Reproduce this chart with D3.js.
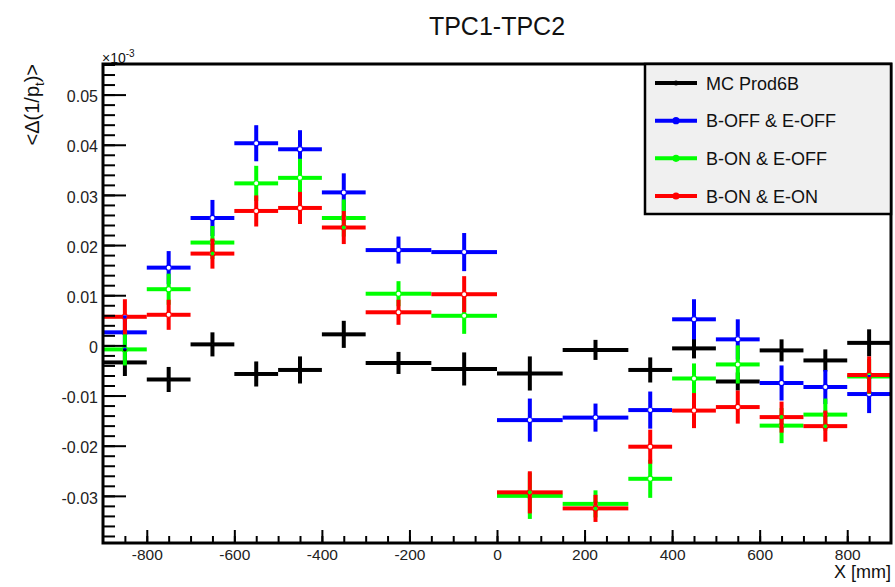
<!DOCTYPE html>
<html>
<head>
<meta charset="utf-8">
<script src="https://cdn.jsdelivr.net/npm/d3@7"></script>
<style>
  html, body { margin: 0; padding: 0; background: #fff; }
  svg { display: block; font-family: "Liberation Sans", Arial, Helvetica, sans-serif; }
</style>
</head>
<body>
<svg id="chart" width="895" height="587"></svg>
<script>
'use strict';

/* ─────────────────────────────────────────────────────────────────
   TPC1-TPC2 residuals — <Δ(1/pt)> vs X, four variable-width histos
   drawn ROOT style (error crosses, open circle markers)
   ───────────────────────────────────────────────────────────────── */

// bin edges in mm (last bins are wider in the middle)
const binEdges = [-900, -800, -700, -600, -500, -400, -300, -150, 0, 150, 300, 400, 500, 600, 700, 800, 900];

const seriesNames = ['MC Prod6B', 'B-OFF & E-OFF', 'B-ON & E-OFF', 'B-ON & E-ON'];

// values in units of 1e-3, one per bin
const mcVals   = [-0.0034, -0.0068, 0.0002, -0.0057, -0.0049, 0.0022, -0.0035, -0.0047, -0.0056, -0.0009, -0.0049, -0.0006, -0.0072, -0.0010, -0.0030, 0.0005];
const mcErrs   = [0.0027, 0.0025, 0.0024, 0.0025, 0.0027, 0.0027, 0.0022, 0.0033, 0.0034, 0.0020, 0.0025, 0.0020, 0.0018, 0.0022, 0.0022, 0.0027];

const boffVals = [0.0026, 0.0155, 0.0254, 0.0403, 0.0391, 0.0305, 0.0190, 0.0186, -0.0149, -0.0144, -0.0129, 0.0052, 0.0012, -0.0075, -0.0083, -0.0097];
const boffErrs = [0.0034, 0.0033, 0.0036, 0.0036, 0.0038, 0.0038, 0.0027, 0.0038, 0.0043, 0.0028, 0.0037, 0.0040, 0.0040, 0.0035, 0.0034, 0.0038];

const eoffVals = [-0.0008, 0.0112, 0.0205, 0.0323, 0.0334, 0.0254, 0.0103, 0.0059, -0.0300, -0.0316, -0.0266, -0.0066, -0.0038, -0.0160, -0.0138, -0.0062];
const eoffErrs = [0.0032, 0.0031, 0.0033, 0.0035, 0.0038, 0.0037, 0.0025, 0.0036, 0.0046, 0.0027, 0.0038, 0.0030, 0.0038, 0.0035, 0.0032, 0.0035];

const eonVals  = [0.0057, 0.0061, 0.0183, 0.0268, 0.0274, 0.0235, 0.0066, 0.0102, -0.0293, -0.0325, -0.0202, -0.0130, -0.0123, -0.0143, -0.0161, -0.0059];
const eonErrs  = [0.0035, 0.0030, 0.0030, 0.0031, 0.0032, 0.0033, 0.0025, 0.0036, 0.0042, 0.0027, 0.0034, 0.0035, 0.0033, 0.0031, 0.0031, 0.0037];

const xMajorTicks = [-800, -600, -400, -200, 0, 200, 400, 600, 800];
const yMajorTicks = [-0.03, -0.02, -0.01, 0, 0.01, 0.02, 0.03, 0.04, 0.05];

const COLORS = ['#000000', '#0000ff', '#00ff00', '#ff0000'];

const FRAME = { left: 103, right: 891, top: 64, bottom: 543 };

const svg = d3.select('#chart');

const x = d3.scaleLinear().domain([-900, 900]).range([FRAME.left, FRAME.right]);
const y = d3.scaleLinear().domain([-0.0394, 0.0561]).range([FRAME.bottom, FRAME.top]);

/* ── data crosses ─────────────────────────────────────────────── */
const series = [
  { vals: mcVals,   errs: mcErrs,   marker: false },
  { vals: boffVals, errs: boffErrs, marker: true },
  { vals: eoffVals, errs: eoffErrs, marker: true },
  { vals: eonVals,  errs: eonErrs,  marker: true },
];

const LW  = 4;     // error bar line width
const GAP = 2.6;   // hole left round the open marker

series.forEach((s, si) => {
  const col = COLORS[si];
  const g = svg.append('g').attr('class', 'series');

  const pts = s.vals.map((v, i) => ({
    x0: binEdges[i], x1: binEdges[i + 1],
    xc: (binEdges[i] + binEdges[i + 1]) / 2,
    v, e: s.errs[i],
  }));

  const gap = s.marker ? GAP : 0;
  const segs = [];
  pts.forEach(p => {
    const cx = x(p.xc), cy = y(p.v);
    segs.push([x(p.x0), cy, cx - gap, cy]);
    segs.push([cx + gap, cy, x(p.x1), cy]);
    segs.push([cx, y(p.v + p.e), cx, cy - gap]);
    segs.push([cx, cy + gap, cx, y(p.v - p.e)]);
  });

  g.selectAll('line').data(segs).enter().append('line')
    .attr('x1', d => d[0]).attr('y1', d => d[1])
    .attr('x2', d => d[2]).attr('y2', d => d[3])
    .attr('stroke', col).attr('stroke-width', LW);

  if (s.marker) {
    g.selectAll('circle').data(pts).enter().append('circle')
      .attr('cx', d => x(d.xc)).attr('cy', d => y(d.v))
      .attr('r', 2.6)
      .attr('fill', 'none')
      .attr('stroke', col).attr('stroke-width', 1.2);
  }
});

/* ── axes ─────────────────────────────────────────────────────── */
// plain hyphen minus like ROOT, not the unicode one d3.format gives
const yLabel = d => d === 0 ? '0' : d.toFixed(2);
const xLabel = d => String(d);

const yMinor = d3.range(-19, 29).map(k => k * 0.002);
const xMinor = d3.range(-17, 18).map(k => k * 50);

svg.append('g')
  .attr('transform', `translate(${FRAME.left},0)`)
  .call(d3.axisLeft(y).tickValues(yMinor).tickSize(-12).tickFormat(''))
  .call(g => g.select('.domain').remove())
  .call(g => g.selectAll('line').attr('stroke-width', 2));

svg.append('g')
  .attr('transform', `translate(${FRAME.left},0)`)
  .call(d3.axisLeft(y).tickValues(yMajorTicks).tickSize(-23).tickSizeOuter(0).tickPadding(5).tickFormat(yLabel))
  .call(g => g.select('.domain').remove())
  .call(g => g.selectAll('line').attr('stroke-width', 2))
  .call(g => g.selectAll('text').attr('font-size', 16).attr('fill', '#222').attr('dy', '0.45em'));

svg.append('g')
  .attr('transform', `translate(0,${FRAME.bottom})`)
  .call(d3.axisBottom(x).tickValues(xMinor).tickSize(-7).tickFormat(''))
  .call(g => g.select('.domain').remove())
  .call(g => g.selectAll('line').attr('stroke-width', 2));

svg.append('g')
  .attr('transform', `translate(0,${FRAME.bottom})`)
  .call(d3.axisBottom(x).tickValues(xMajorTicks).tickSize(-13).tickSizeOuter(0).tickPadding(6).tickFormat(xLabel))
  .call(g => g.select('.domain').remove())
  .call(g => g.selectAll('line').attr('stroke-width', 2))
  .call(g => g.selectAll('text').attr('font-size', 15.5).attr('fill', '#222').attr('dy', '0.71em'));

// frame
svg.append('rect')
  .attr('x', FRAME.left).attr('y', FRAME.top)
  .attr('width', FRAME.right - FRAME.left).attr('height', FRAME.bottom - FRAME.top)
  .attr('fill', 'none').attr('stroke', '#000').attr('stroke-width', 3);

/* ── texts ────────────────────────────────────────────────────── */
svg.append('text')
  .attr('x', 497).attr('y', 35)
  .attr('text-anchor', 'middle')
  .attr('font-size', 25).attr('fill', '#111')
  .text('TPC1-TPC2');

const exp = svg.append('text')
  .attr('x', 102).attr('y', 63)
  .attr('font-size', 14).attr('fill', '#111');
exp.append('tspan').text('×10');
exp.append('tspan').attr('font-size', 10).attr('dy', -6).text('-3');

const yt = svg.append('text')
  .attr('transform', `translate(39,${FRAME.top}) rotate(-90)`)
  .attr('text-anchor', 'end')
  .attr('font-size', 20).attr('fill', '#111');
yt.append('tspan').text('<Δ(1/p');
yt.append('tspan').attr('font-size', 13).attr('dy', 5).text('t');
yt.append('tspan').attr('dy', -5).text(')>');

svg.append('text')
  .attr('x', FRAME.right).attr('y', 578)
  .attr('text-anchor', 'end')
  .attr('font-size', 18).attr('fill', '#111')
  .text('X [mm]');

/* ── legend ───────────────────────────────────────────────────── */
const leg = svg.append('g');
leg.append('rect')
  .attr('x', 645).attr('y', FRAME.top)
  .attr('width', 246).attr('height', 150)
  .attr('fill', '#f0f0f0').attr('stroke', '#000').attr('stroke-width', 2.5);

const rowY = d3.scalePoint().domain(seriesNames).range([83, 196]);

seriesNames.forEach((name, i) => {
  const ry = rowY(name);
  leg.append('line')
    .attr('x1', 655).attr('x2', 697).attr('y1', ry).attr('y2', ry)
    .attr('stroke', COLORS[i]).attr('stroke-width', 4);
  leg.append('circle')
    .attr('cx', 676).attr('cy', ry).attr('r', i === 0 ? 2.5 : 3.6)
    .attr('fill', COLORS[i]);
  leg.append('text')
    .attr('x', 706).attr('y', ry + 6.5)
    .attr('font-size', 18).attr('fill', '#111')
    .text(name);
});
</script>
</body>
</html>
